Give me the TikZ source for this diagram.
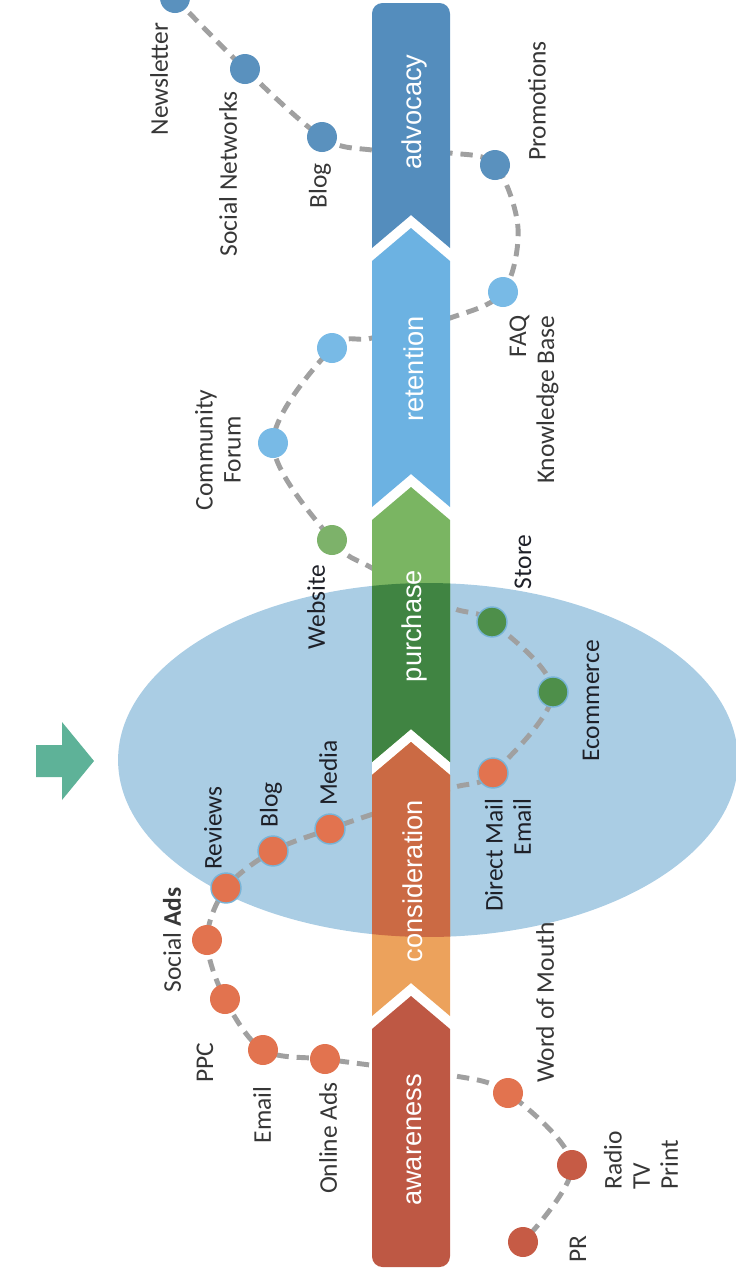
\documentclass[tikz,border=0pt]{standalone}
\usepackage{fontspec}
\setmainfont{Carlito}
\newfontfamily\stagefont{Liberation Sans}

\definecolor{advc}{RGB}{84,141,189}
\definecolor{retc}{RGB}{108,178,226}
\definecolor{purlight}{RGB}{122,181,98}
\definecolor{purdark}{RGB}{64,132,66}
\definecolor{conlight}{RGB}{236,162,92}
\definecolor{condark}{RGB}{203,106,68}
\definecolor{awc}{RGB}{190,88,68}
\definecolor{ellc}{RGB}{170,205,228}
\definecolor{arrowc}{RGB}{94,178,152}
\definecolor{trailc}{RGB}{160,160,160}
\definecolor{labelc}{RGB}{55,55,55}
\definecolor{labeldark}{RGB}{30,32,40}
\definecolor{ringc}{RGB}{120,180,215}
\definecolor{dotadv}{RGB}{90,145,190}
\definecolor{dotret}{RGB}{120,186,230}
\definecolor{dotweb}{RGB}{125,178,106}
\definecolor{dotpur}{RGB}{78,143,74}
\definecolor{dotorange}{RGB}{226,115,79}
\definecolor{dotred}{RGB}{198,91,69}

\pgfdeclarelayer{back}
\pgfdeclarelayer{trail}
\pgfsetlayers{back,trail,main}

\tikzset{
  stopdot/.style={circle, fill=#1, minimum size=0.6cm, inner sep=0pt},
  indot/.style={stopdot=#1, draw=ringc, line width=0.8pt},
  lbl/.style={rotate=90, inner sep=0pt, text=labelc, font=\fontsize{14.5}{16}\selectfont},
  inlbl/.style={lbl, text=labeldark},
  stagelbl/.style={rotate=90, inner sep=0pt, text=white, font=\stagefont\fontsize{15.5}{18}\selectfont},
  trailline/.style={draw=trailc, line width=2.8pt, dash pattern=on 7pt off 4.5pt}
}

\begin{document}
\begin{tikzpicture}[x=0.02cm, y=-0.02cm]
    \useasboundingbox (0,0) rectangle (735,1272);
    \clip (0,0) rectangle (735,1272);
    \begin{pgfonlayer}{back}
        \fill[ellc] (428,760) ellipse [x radius=6.2cm, y radius=3.54cm];
    \end{pgfonlayer}
    \fill[arrowc] (36,745) -- (62,745) -- (62,722) -- (94,761) -- (62,800) -- (62,777) -- (36,777) -- cycle;
    \fill[white] (372,0) rectangle (450,1272);
    \fill[advc] (450,248) -- (411,215) -- (372,248) {[rounded corners=6pt] -- (372,3) -- (450,3)} -- cycle;
    \fill[retc] (372,261) -- (411,228) -- (450,261) -- (450,507) -- (411,474) -- (372,507) -- cycle;
    \fill[purlight] (372,520) -- (411,487) -- (450,520) -- (450,762) -- (411,729) -- (372,762) -- cycle;
    \fill[conlight] (372,775) -- (411,742) -- (450,775) -- (450,1016) -- (411,983) -- (372,1016) -- cycle;
    \fill[awc] (372,1029) -- (411,996) -- (450,1029) {[rounded corners=6pt] -- (450,1267) -- (372,1267)} -- cycle;
    \begin{scope}
        \clip (428,760) ellipse [x radius=6.2cm, y radius=3.54cm];
        \fill[purdark] (372,520) -- (411,487) -- (450,520) -- (450,762) -- (411,729) -- (372,762) -- cycle;
        \fill[condark] (372,775) -- (411,742) -- (450,775) -- (450,1016) -- (411,983) -- (372,1016) -- cycle;
    \end{scope}
    \node[stagelbl] (advocacy) at (414,112) {advocacy};
    \node[stagelbl] (retention) at (414,369) {retention};
    \node[stagelbl] (purchase) at (414,626) {purchase};
    \node[stagelbl] (consideration) at (413,881) {consideration};
    \node[stagelbl] (awareness) at (414,1140) {awareness};

    \node[stopdot=dotadv] (news) at (175,-2) {};
    \node[stopdot=dotadv] (socnet) at (245,69) {};
    \node[stopdot=dotadv] (bloga) at (322,137) {};
    \node[stopdot=dotadv] (promo) at (495,165) {};
    \node[stopdot=dotret] (faq) at (503,292) {};
    \node[stopdot=dotret] (ret1) at (332,348) {};
    \node[stopdot=dotret] (comm) at (273,443) {};
    \node[stopdot=dotweb] (web) at (332,540) {};
    \node[indot=dotpur] (store) at (492,622) {};
    \node[indot=dotpur] (ecom) at (553,692) {};
    \node[indot=dotorange] (dmail) at (493,773) {};
    \node[indot=dotorange] (media) at (330,829) {};
    \node[indot=dotorange] (blogc) at (273,851) {};
    \node[indot=dotorange] (rev) at (226,888) {};
    \node[stopdot=dotorange] (socads) at (207,940) {};
    \node[stopdot=dotorange] (ppc) at (225,999) {};
    \node[stopdot=dotorange] (email) at (263,1050) {};
    \node[stopdot=dotorange] (online) at (325,1059) {};
    \node[stopdot=dotorange] (wom) at (508,1093) {};
    \node[stopdot=dotred] (radio) at (572,1165) {};
    \node[stopdot=dotred] (pr) at (523,1242) {};

    \coordinate (x1a) at (372,150);
    \coordinate (x1b) at (450,153);
    \coordinate (w1) at (518,228);
    \coordinate (x2a) at (450,318);
    \coordinate (x2b) at (372,338);
    \coordinate (x3a) at (372,568);
    \coordinate (x3b) at (450,607);
    \coordinate (x4a) at (452,788);
    \coordinate (x4b) at (370,815);
    \coordinate (x5a) at (370,1065);
    \coordinate (x5b) at (450,1075);

    \node[lbl] (lnews) at (159,79) {Newsletter};
    \node[lbl] (lsocnet) at (228,174) {Social Networks};
    \node[lbl] (lbloga) at (320,186) {Blog};
    \node[lbl] (lpromo) at (537,101) {Promotions};
    \node[lbl, align=right, anchor=east] (lfaq) at (534,315) {FAQ\\Knowledge Base};
    \node[lbl, align=center] (lcomm) at (218,450) {Community\\Forum};
    \node[inlbl] (lweb) at (316,607) {Website};
    \node[inlbl] (lstore) at (523,562) {Store};
    \node[inlbl] (lecom) at (591,701) {Ecommerce};
    \node[inlbl, align=right, anchor=east] (ldmail) at (508,798) {Direct Mail\\Email};
    \node[inlbl] (lmedia) at (328,773) {Media};
    \node[inlbl] (lblogc) at (271,805) {Blog};
    \node[inlbl] (lrev) at (213,828) {Reviews};
    \node[lbl] (lsocads) at (172,940) {Social \textbf{Ads}};
    \node[lbl] (lppc) at (205,1063) {PPC};
    \node[lbl] (lemail) at (262,1115) {Email};
    \node[lbl] (lonline) at (328,1138) {Online Ads};
    \node[lbl, anchor=west] (lwom) at (545,1083) {Word of Mouth};
    \node[lbl, align=left, anchor=west] (lradio) at (641,1190) {Radio\\TV\\Print};
    \node[lbl] (lpr) at (578,1249) {PR};

    \begin{pgfonlayer}{trail}
        \draw[trailline] plot[smooth, tension=0.55] coordinates {(news) (socnet) (bloga) (x1a) (x1b) (promo) (w1) (faq) (x2a) (x2b) (ret1) (comm) (web) (x3a) (x3b) (store) (ecom) (dmail) (x4a) (x4b) (media) (blogc) (rev) (socads) (ppc) (email) (online) (x5a) (x5b) (wom) (radio) (pr)};
    \end{pgfonlayer}
\end{tikzpicture}
\end{document}
